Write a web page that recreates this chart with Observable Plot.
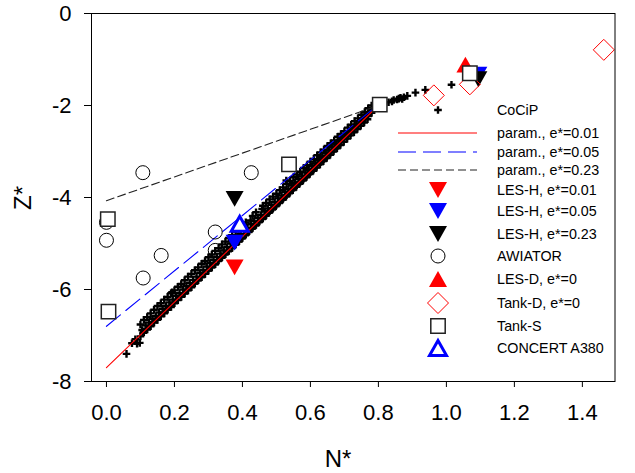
<!DOCTYPE html>
<html><head><meta charset="utf-8">
<script src="https://cdn.jsdelivr.net/npm/d3@7"></script>
<script src="https://cdn.jsdelivr.net/npm/@observablehq/plot@0.6"></script>
<style>
body{margin:0;background:#fff;}
#chart{position:relative;width:635px;height:473px;}
</style>
</head><body><div id="chart"></div>
<script>
// ---- tick labels ----
const xTicks = [0, 0.2, 0.4, 0.6, 0.8, 1.0, 1.2, 1.4];
const yTicks = [-8, -6, -4, -2, 0];

// ---- CoCiP (N*, Z*) ----
const cocip = [
[0.059,-7.40],[0.075,-7.17],[0.090,-7.18],[0.098,-7.16],[0.085,-7.08],
[0.10,-7.02],[0.105,-6.88],[0.10,-6.76],[0.108,-6.94],
[0.11,-6.93],[0.115,-6.78],[0.11,-6.66],[0.118,-6.86],
[0.12,-6.87],[0.125,-6.72],[0.12,-6.60],[0.128,-6.79],
[0.13,-6.80],[0.135,-6.64],[0.13,-6.52],[0.138,-6.71],
[0.14,-6.72],[0.145,-6.58],[0.14,-6.44],[0.148,-6.64],
[0.15,-6.66],[0.155,-6.50],[0.15,-6.36],[0.158,-6.57],
[0.16,-6.58],[0.165,-6.42],[0.16,-6.30],[0.168,-6.50],
[0.17,-6.52],[0.175,-6.36],[0.17,-6.22],[0.178,-6.43],
[0.18,-6.44],[0.185,-6.28],[0.18,-6.16],[0.188,-6.36],
[0.19,-6.38],[0.195,-6.22],[0.19,-6.08],[0.193,-6.06],[0.198,-6.29],
[0.20,-6.30],[0.205,-6.14],[0.20,-6.02],[0.208,-6.22],
[0.21,-6.23],[0.215,-6.08],[0.21,-5.94],[0.218,-6.15],
[0.22,-6.16],[0.225,-6.00],[0.22,-5.88],[0.228,-6.08],
[0.23,-6.09],[0.235,-5.93],[0.23,-5.80],[0.238,-6.01],
[0.24,-6.02],[0.245,-5.86],[0.24,-5.72],[0.248,-5.94],
[0.25,-5.95],[0.255,-5.79],[0.25,-5.66],[0.258,-5.87],
[0.26,-5.87],[0.265,-5.72],[0.26,-5.58],[0.268,-5.80],
[0.27,-5.80],[0.275,-5.64],[0.27,-5.52],[0.278,-5.73],
[0.28,-5.73],[0.285,-5.58],[0.28,-5.44],[0.288,-5.66],
[0.29,-5.66],[0.295,-5.50],[0.29,-5.38],[0.298,-5.59],
[0.30,-5.59],[0.305,-5.43],[0.30,-5.30],[0.308,-5.52],
[0.31,-5.52],[0.315,-5.36],[0.31,-5.24],[0.318,-5.45],
[0.32,-5.45],[0.325,-5.29],[0.32,-5.16],[0.328,-5.38],
[0.33,-5.37],[0.335,-5.22],[0.33,-5.10],[0.338,-5.31],
[0.34,-5.30],[0.345,-5.15],[0.34,-5.02],[0.348,-5.24],
[0.35,-5.23],[0.355,-5.08],[0.35,-4.96],[0.358,-5.17],
[0.36,-5.16],[0.365,-5.00],[0.36,-4.88],[0.368,-5.10],
[0.37,-5.09],[0.375,-4.94],[0.37,-4.82],[0.378,-5.03],
[0.38,-5.02],[0.385,-4.86],[0.38,-4.74],[0.388,-4.96],
[0.39,-4.95],[0.395,-4.80],[0.39,-4.68],[0.398,-4.89],
[0.40,-4.88],[0.405,-4.72],[0.40,-4.60],[0.408,-4.82],
[0.41,-4.80],[0.415,-4.66],[0.41,-4.54],[0.418,-4.75],
[0.42,-4.73],[0.425,-4.58],[0.424,-4.50],[0.428,-4.68],
[0.43,-4.66],[0.435,-4.52],[0.43,-4.40],[0.438,-4.61],
[0.44,-4.59],[0.445,-4.44],[0.44,-4.32],[0.448,-4.54],
[0.45,-4.52],[0.455,-4.38],[0.458,-4.25],[0.458,-4.47],
[0.46,-4.45],[0.465,-4.30],[0.46,-4.18],[0.468,-4.40],
[0.47,-4.38],[0.475,-4.24],[0.47,-4.12],[0.478,-4.33],
[0.48,-4.30],[0.485,-4.16],[0.48,-4.04],[0.488,-4.26],
[0.49,-4.23],[0.495,-4.10],[0.49,-3.98],[0.498,-4.19],
[0.50,-4.16],[0.505,-4.02],[0.50,-3.92],[0.508,-4.12],
[0.51,-4.09],[0.515,-3.96],[0.51,-3.84],[0.518,-4.05],
[0.52,-4.02],[0.525,-3.88],[0.52,-3.78],[0.528,-3.98],
[0.53,-3.95],[0.535,-3.82],[0.53,-3.70],[0.529,-3.63],[0.538,-3.91],
[0.54,-3.88],[0.545,-3.74],[0.54,-3.64],[0.548,-3.84],
[0.55,-3.80],[0.555,-3.68],[0.55,-3.56],[0.558,-3.77],
[0.56,-3.73],[0.565,-3.60],[0.56,-3.50],[0.568,-3.70],
[0.57,-3.66],[0.575,-3.54],[0.57,-3.44],[0.578,-3.63],
[0.58,-3.59],[0.585,-3.46],[0.58,-3.36],[0.588,-3.56],
[0.59,-3.52],[0.595,-3.40],[0.59,-3.30],[0.598,-3.49],
[0.60,-3.45],[0.605,-3.32],[0.60,-3.22],[0.608,-3.42],
[0.61,-3.38],[0.615,-3.26],[0.61,-3.16],[0.618,-3.35],
[0.62,-3.30],[0.625,-3.18],[0.62,-3.08],[0.628,-3.28],
[0.63,-3.23],[0.635,-3.12],[0.63,-3.02],[0.638,-3.21],
[0.64,-3.16],[0.645,-3.04],[0.64,-2.96],[0.648,-3.14],
[0.65,-3.09],[0.655,-2.98],[0.65,-2.88],[0.658,-3.07],
[0.66,-3.02],[0.665,-2.90],[0.66,-2.82],[0.668,-3.00],
[0.67,-2.95],[0.675,-2.84],[0.67,-2.76],[0.678,-2.93],
[0.68,-2.88],[0.685,-2.76],[0.68,-2.68],[0.688,-2.86],
[0.69,-2.80],[0.695,-2.70],[0.69,-2.62],[0.698,-2.79],
[0.70,-2.73],[0.705,-2.62],[0.70,-2.56],[0.708,-2.72],
[0.71,-2.66],[0.715,-2.56],[0.71,-2.48],[0.718,-2.65],
[0.72,-2.59],[0.725,-2.48],[0.72,-2.42],[0.728,-2.58],
[0.73,-2.52],[0.735,-2.42],[0.73,-2.34],[0.738,-2.51],
[0.74,-2.45],[0.745,-2.34],[0.74,-2.28],[0.748,-2.44],
[0.75,-2.38],[0.755,-2.28],[0.75,-2.20],[0.758,-2.37],
[0.76,-2.30],[0.765,-2.20],[0.76,-2.14],[0.768,-2.30],
[0.77,-2.23],[0.775,-2.14],[0.77,-2.06],
[0.78,-2.16],[0.785,-2.06],[0.78,-2.00],
[0.815,-1.97],[0.83,-1.93],[0.84,-1.91],[0.845,-1.88],[0.855,-1.87],[0.86,-1.85],
[0.865,-1.83],[0.875,-1.82],[0.885,-1.79],[0.87,-1.86],
[0.909,-1.72],[0.938,-1.66],[1.015,-1.55]
];

// ---- parameterisation curves ----
const param001 = [[0, -7.70], [0.80, -2.00]];
const param005 = [[0, -6.80], [0.78, -2.10]];
const param023 = [[0, -4.07], [0.80, -2.00]];

// ---- LES-H ----
const lesH001 = [[0.377, -5.52]];
const lesH005 = [[0.377, -4.98], [1.094, -1.33]];
const lesH023 = [[0.377, -4.03], [1.094, -1.43]];
// ---- AWIATOR ----
const awiator = [[0.0, -4.54], [0.0, -4.93], [0.107, -3.46], [0.426, -3.46], [0.161, -5.26], [0.108, -5.75], [0.320, -4.75], [0.320, -5.15]];
// ---- LES-D ----
const lesD = [[1.056, -1.11]];
// ---- Tank-D ----
const tankD = [[0.963, -1.78], [1.069, -1.54], [1.463, -0.79]];
// ---- Tank-S ----
const tankS = [[0.004, -4.47], [0.006, -6.48], [0.537, -3.28], [0.804, -1.98], [1.069, -1.30]];
// ---- CONCERT A380 ----
const concert = [[0.392, -4.57]];

// legend entries
const legendLabels = ["CoCiP","param., e*=0.01","param., e*=0.05","param., e*=0.23","LES-H, e*=0.01","LES-H, e*=0.05","LES-H, e*=0.23","AWIATOR","LES-D, e*=0","Tank-D, e*=0","Tank-S","CONCERT A380"];

// ---- custom symbols ----
function sym(fn){ return {draw(c, size){ const r = Math.sqrt(size / Math.PI); fn(c, r); }}; }
const triDown = sym((c,r)=>{c.moveTo(-r,-r*0.88);c.lineTo(r,-r*0.88);c.lineTo(0,r*0.88);c.closePath();});
const triUp = sym((c,r)=>{c.moveTo(-r,r*0.88);c.lineTo(r,r*0.88);c.lineTo(0,-r*0.88);c.closePath();});
const diamond = sym((c,r)=>{c.moveTo(0,-r);c.lineTo(r,0);c.lineTo(0,r);c.lineTo(-r,0);c.closePath();});
const square = sym((c,r)=>{c.moveTo(-r,-r);c.lineTo(r,-r);c.lineTo(r,r);c.lineTo(-r,r);c.closePath();});
const plus = sym((c,r)=>{c.moveTo(-r,0);c.lineTo(r,0);c.moveTo(0,-r);c.lineTo(0,r);});

const RED = "#ff0000", BLUE = "#0000ff";
const styles = [
  {type:"dot", symbol: plus, r: 3.8, fill: "none", stroke: "#000", sw: 2.4},
  {type:"line", stroke: RED, sw: 1.1, dash: null},
  {type:"line", stroke: BLUE, sw: 1.1, dash: "18,7"},
  {type:"line", stroke: "#222", sw: 1.1, dash: "8,4"},
  {type:"dot", symbol: triDown, r: 9, fill: RED, stroke: "none", sw: 0},
  {type:"dot", symbol: triDown, r: 9, fill: BLUE, stroke: "none", sw: 0},
  {type:"dot", symbol: triDown, r: 9, fill: "#000", stroke: "none", sw: 0},
  {type:"dot", symbol: "circle", r: 7, fill: "none", stroke: "#000", sw: 1},
  {type:"dot", symbol: triUp, r: 9, fill: RED, stroke: "none", sw: 0},
  {type:"dot", symbol: diamond, r: 10.5, fill: "none", stroke: RED, sw: 1},
  {type:"dot", symbol: square, r: 7.2, fill: "#fff", stroke: "#222", sw: 1.5},
  {type:"dot", symbol: triUp, r: 8.5, fill: "#fff", stroke: BLUE, sw: 3}
];
const series = [cocip, param001, param005, param023, lesH001, lesH005, lesH023, awiator, lesD, tankD, tankS, concert];

const marks = [];
series.forEach((data, i) => {
  const s = styles[i];
  if (s.type === "line") {
    marks.push(Plot.line(data, {x: d => d[0], y: d => d[1], stroke: s.stroke, strokeWidth: s.sw, strokeDasharray: s.dash}));
  } else {
    marks.push(Plot.dot(data, {x: d => d[0], y: d => d[1], symbol: s.symbol, r: s.r, fill: s.fill, stroke: s.stroke, strokeWidth: s.sw}));
  }
});
marks.push(Plot.frame({stroke: "#000", strokeWidth: 1}));

const chart = Plot.plot({
  width: 635, height: 473,
  marginLeft: 91, marginRight: 20.5, marginTop: 13, marginBottom: 92,
  style: {fontFamily: "'Liberation Sans', Arial, sans-serif", fontSize: "22px", color: "#000", background: "#fff", overflow: "visible"},
  x: {domain: [-0.044, 1.496], ticks: xTicks, tickFormat: d3.format(".1f"), label: null, tickSize: 6, tickPadding: 17},
  y: {domain: [-8, 0], ticks: yTicks, tickFormat: d => d === 0 ? "0" : String(d), label: null, tickSize: 7, tickPadding: 13},
  marks
});
document.getElementById("chart").appendChild(chart);

const svg = d3.select(chart);
svg.selectAll("text").style("font-family", "'Liberation Sans', Arial, sans-serif");
// axis titles
svg.append("text").attr("x", 338).attr("y", 467).attr("text-anchor", "middle")
  .style("font-family", "'Liberation Sans', Arial, sans-serif").style("font-size", "24px").attr("fill", "#000").text("N*");
svg.append("text").attr("transform", "translate(31,198) rotate(-90)").attr("text-anchor", "middle")
  .style("font-family", "'Liberation Sans', Arial, sans-serif").style("font-size", "24px").attr("fill", "#000").text("Z*");

// legend (inside the plot, right side)
const rowY = [110, 133, 152, 170, 190, 211, 234, 256, 279, 303, 326, 348];
const lg = svg.append("g").attr("class", "legend").attr("text-anchor", "start");
legendLabels.forEach((lab, i) => {
  const s = styles[i], y = rowY[i];
  if (s.type === "line") {
    lg.append("line").attr("x1", 398).attr("x2", 477).attr("y1", y).attr("y2", y)
      .attr("stroke", s.stroke).attr("stroke-width", s.sw).attr("stroke-dasharray", s.dash);
  } else {
    const shape = s.symbol === "circle" ? d3.symbolCircle : s.symbol;
    lg.append("path").attr("transform", `translate(438,${y})`)
      .attr("d", d3.symbol(shape, Math.PI * s.r * s.r)())
      .attr("fill", s.fill).attr("stroke", s.stroke).attr("stroke-width", s.sw);
  }
  lg.append("text").attr("x", 497).attr("y", y).attr("dy", "0.35em").attr("text-anchor", "start")
    .style("font-family", "'Liberation Sans', Arial, sans-serif").style("font-size", "14.3px").attr("fill", "#000").text(lab);
});
</script>
</body></html>
